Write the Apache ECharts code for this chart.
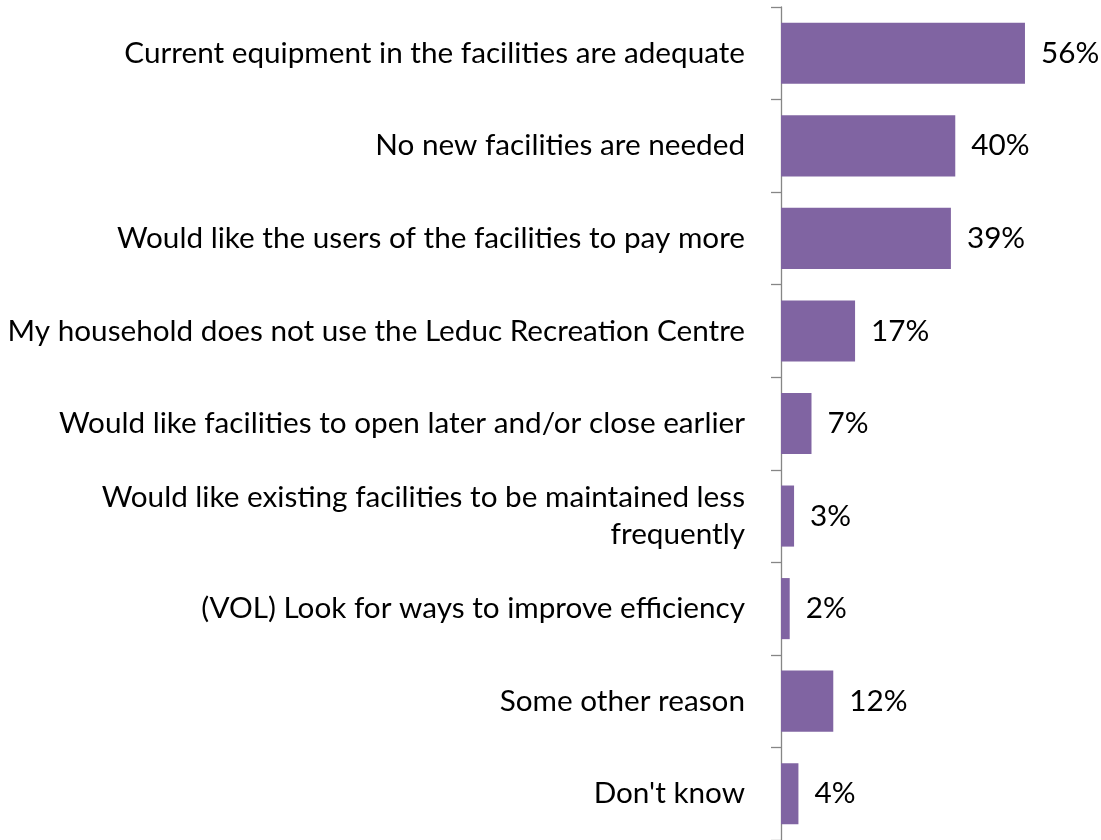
<!DOCTYPE html>
<html><head><meta charset="utf-8">
<script src="https://cdn.jsdelivr.net/npm/echarts@6/dist/echarts.min.js"></script>
<style>html,body{margin:0;padding:0;background:#fff}#c{width:1101px;height:840px}</style>
</head><body><div id="c"></div>
<script>
const categories = [
  "Current equipment in the facilities are adequate",
  "No new facilities are needed",
  "Would like the users of the facilities to pay more",
  "My household does not use the Leduc Recreation Centre",
  "Would like facilities to open later and/or close earlier",
  "Would like existing facilities to be maintained less\nfrequently",
  "(VOL) Look for ways to improve efficiency",
  "Some other reason",
  "Don't know"
];
const values = [56, 40, 39, 17, 7, 3, 2, 12, 4];

const chart = echarts.init(document.getElementById('c'));
chart.setOption({
  animation: false,
  grid: { left: 781, top: 7, height: 833, width: 261.4, containLabel: false, outerBoundsMode: 'none' },
  xAxis: { type: 'value', min: 0, max: 60, show: false },
  yAxis: {
    type: 'category', inverse: true, data: categories,
    axisLine: { show: true, lineStyle: { color: '#868686', width: 1.3 } },
    axisTick: { show: true, length: 10, lineStyle: { color: '#868686', width: 1.3 } },
    axisLabel: { margin: 36, fontSize: 29.7, fontFamily: 'Lato', color: '#000', align: 'right', lineHeight: 37 }
  },
  series: [{
    type: 'bar', data: values, barCategoryGap: '34%',
    itemStyle: { color: '#8064A2' },
    label: { show: true, position: 'right', distance: 16, formatter: '{c}%', fontSize: 29.7, fontFamily: 'Lato', color: '#000' }
  }]
});
</script></body></html>
